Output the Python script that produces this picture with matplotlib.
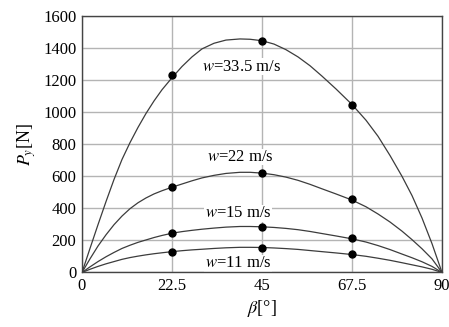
import numpy as np
import matplotlib
matplotlib.use("Agg")
import matplotlib.pyplot as plt

plt.rcParams["font.family"] = ["Liberation Serif", "DejaVu Serif"]
plt.rcParams["mathtext.fontset"] = "stix"

# measured points (beta in degrees, P_y in N)
beta_pts = [22.5, 45, 67.5]
p_335 = [1233, 1446, 1048]
p_22 = [531, 620, 456]
p_15 = [249, 284, 213]
p_11 = [129, 155, 115]

# fitted curves on a common beta grid
beta_c = [0, 2, 4, 6, 8, 10, 12, 14, 16, 18, 20, 22.5, 25, 27.5, 30, 33, 36,
          39.5, 42, 45, 48, 51, 54, 57, 60, 63.5, 67.5, 71, 74, 77, 80, 82.5,
          85, 87.5, 90]
curve_335 = [0, 150, 298, 442, 580, 705, 810, 905, 992, 1070, 1140, 1215,
             1285, 1345, 1395, 1430, 1450, 1457, 1455, 1446, 1425, 1390, 1345,
             1290, 1225, 1145, 1048, 950, 850, 730, 600, 480, 340, 180, 0]
curve_22 = [0, 85, 165, 235, 298, 352, 398, 435, 465, 490, 510, 532, 552, 572,
            590, 606, 618, 625, 625, 620, 610, 595, 575, 550, 522, 490, 452,
            410, 365, 315, 258, 205, 148, 85, 0]
curve_15 = [0, 35, 68, 98, 125, 150, 170, 188, 203, 218, 231, 245, 255, 263,
            270, 277, 283, 287, 287, 285, 281, 275, 267, 256, 243, 228, 210,
            190, 168, 143, 115, 92, 67, 38, 0]
curve_11 = [0, 20, 38, 54, 68, 82, 93, 102, 110, 117, 123, 130, 136, 141, 145,
            150, 154, 157, 157, 156, 153, 149, 144, 137, 130, 122, 112, 101, 89,
            76, 61, 48, 35, 20, 0]

labels = [r"$w$=33.5 m/s", r"$w$=22 m/s", r"$w$=15 m/s", r"$w$=11 m/s"]
label_pos = [(40, 1285), (39.7, 721), (39, 369), (39, 57)]

fig = plt.figure(figsize=(4.49, 3.27), dpi=100)
ax = fig.add_axes([0.1826, 0.1667, 0.8018, 0.7843])

line_color = "#3c3c3c"
for curve in (curve_335, curve_22, curve_15, curve_11):
    ax.plot(beta_c, curve, color=line_color, lw=0.9, zorder=3)

for pts in (p_335, p_22, p_15, p_11):
    ax.plot(beta_pts, pts, "o", color="black", ms=5, zorder=4)

for text, (x, y) in zip(labels, label_pos):
    ax.text(x, y, text, fontsize=12, ha="center", va="center", zorder=2,
            bbox=dict(facecolor="white", edgecolor="none", pad=0.3))

ax.set_xlim(0, 90)
ax.set_ylim(0, 1600)
ax.set_xticks([0, 22.5, 45, 67.5, 90])
ax.set_xticklabels(["0", "22.5", "45", "67.5", "90"])
ax.set_yticks(np.arange(0, 1601, 200))
ax.tick_params(length=0, labelsize=12, pad=4)
ax.grid(True, color="#b4b4b4", lw=1.0, zorder=1)
ax.set_axisbelow(True)
for s in ax.spines.values():
    s.set_color("#444444")
    s.set_linewidth(1.0)

ax.set_xlabel(r"$\beta$[°]", fontsize=13, labelpad=3)
ax.set_ylabel(r"$P_y$[N]", fontsize=13, labelpad=4)

fig.savefig("out.png", dpi=100)
